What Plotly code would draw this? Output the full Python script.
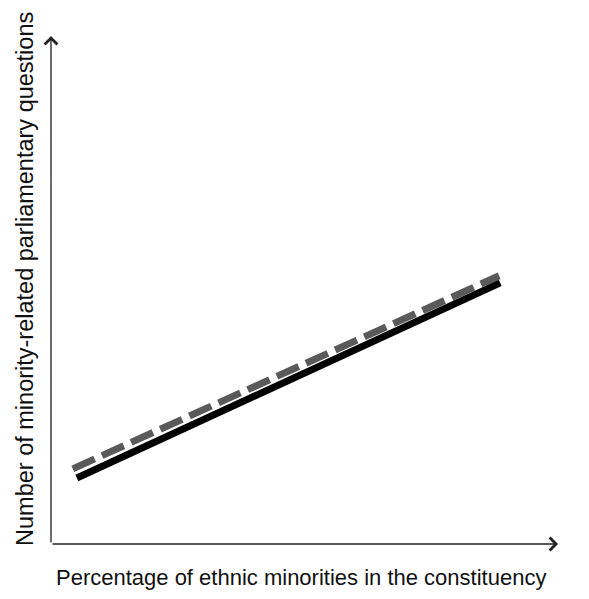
import plotly.graph_objects as go

# Data (arbitrary units on both axes)
solid_x = [0.51, 8.86]
solid_y = [1.30, 5.14]
dashed_x = [0.43, 8.84]
dashed_y = [1.48, 5.28]

x_title = "Percentage of ethnic minorities in the constituency"
y_title = "Number of minority-related parliamentary questions"

X_MAX = 10
Y_MAX = 10

FONT = "Liberation Sans, Arial, sans-serif"

fig = go.Figure()
fig.add_trace(go.Scatter(x=dashed_x, y=dashed_y, mode="lines",
                         line=dict(color="#5a5a5a", width=7, dash="24px,8px"),
                         showlegend=False, hoverinfo="skip"))
fig.add_trace(go.Scatter(x=solid_x, y=solid_y, mode="lines",
                         line=dict(color="#000000", width=7),
                         showlegend=False, hoverinfo="skip"))

annotations = [
    dict(x=X_MAX, y=0, ax=0, ay=0, xref="x", yref="y", axref="x", ayref="y",
         text="", showarrow=True, arrowhead=4, arrowsize=1.9, arrowwidth=1.3,
         arrowcolor="#222222", standoff=0, startstandoff=0),
    dict(x=0, y=Y_MAX, ax=0, ay=0, xref="x", yref="y", axref="x", ayref="y",
         text="", showarrow=True, arrowhead=4, arrowsize=1.9, arrowwidth=1.3,
         arrowcolor="#222222", standoff=0, startstandoff=0),
    dict(text=x_title, xref="paper", yref="paper", x=0.493, y=-0.066,
         xanchor="center", yanchor="middle", showarrow=False,
         font=dict(family=FONT, size=22, color="#111111")),
    dict(text=y_title, xref="paper", yref="paper", x=0, y=0.5217, xshift=-26,
         xanchor="center", yanchor="middle", showarrow=False, textangle=-90,
         font=dict(family=FONT, size=23.5, color="#111111")),
]

fig.update_layout(
    width=581, height=591,
    margin=dict(l=43, r=31, t=28, b=55),
    paper_bgcolor="white", plot_bgcolor="white",
    xaxis=dict(range=[0, X_MAX], visible=False, fixedrange=True),
    yaxis=dict(range=[0, Y_MAX], visible=False, fixedrange=True),
    annotations=annotations,
)

fig.write_html("out.html")
